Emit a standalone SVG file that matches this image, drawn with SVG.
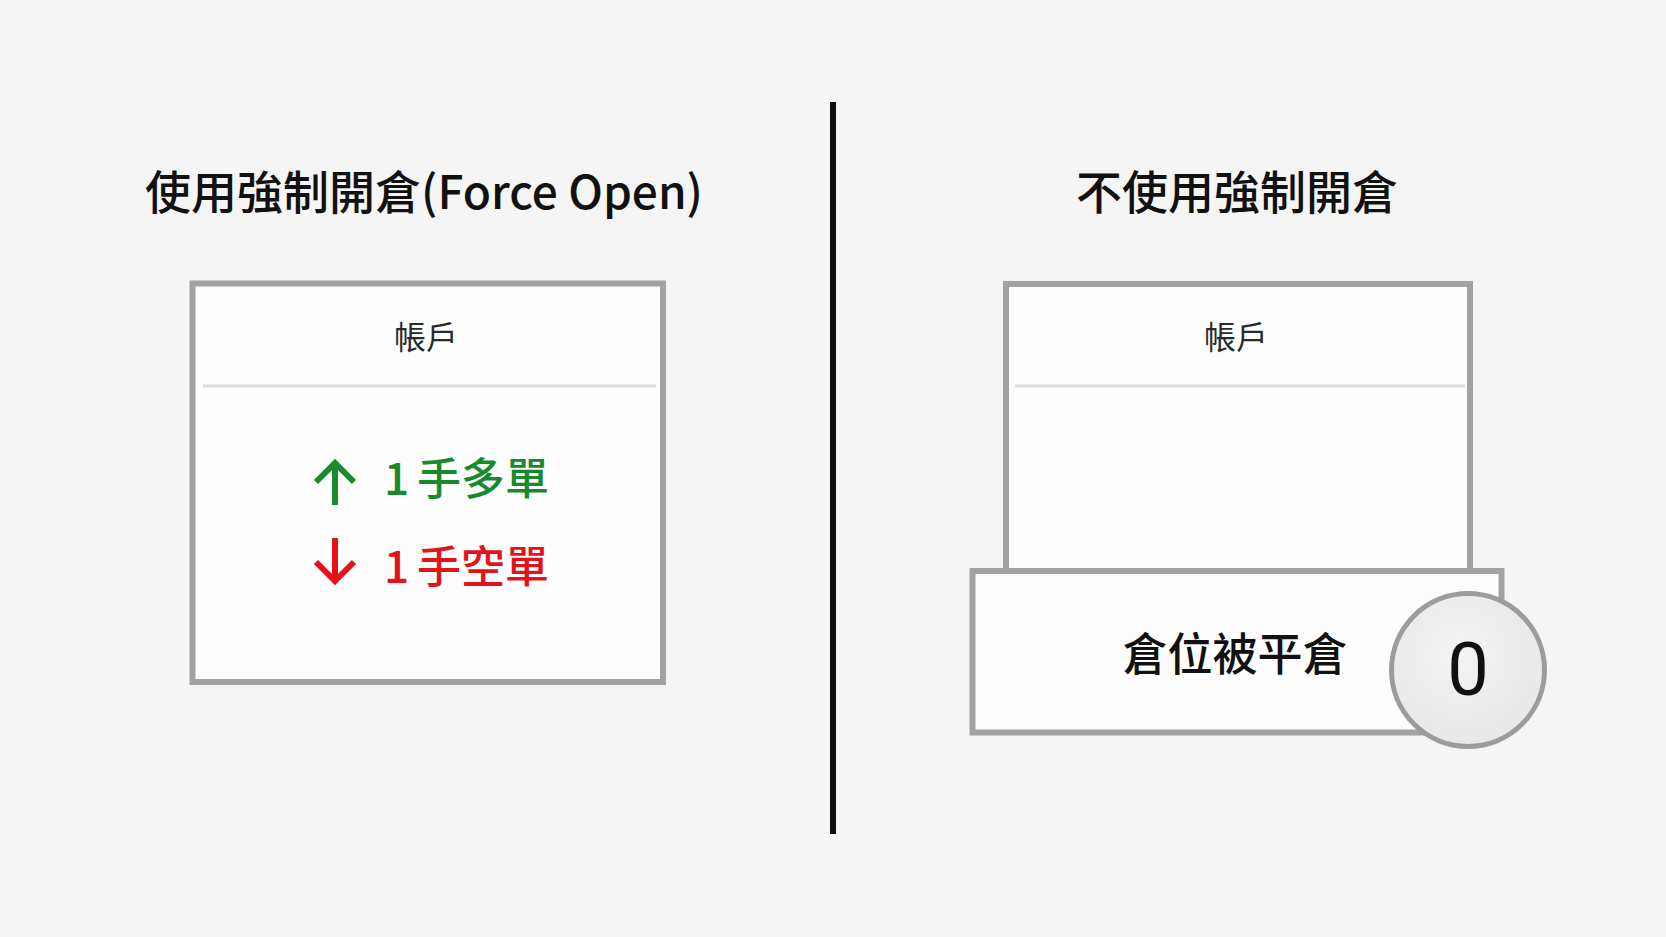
<svg xmlns="http://www.w3.org/2000/svg" width="1666" height="937" viewBox="0 0 1666 937">
<defs>
<style>
.t{font-family:"Noto Sans CJK TC","Noto Sans CJK SC","Noto Sans",sans-serif;}
.title{font-size:46px;font-weight:500;fill:#111;text-anchor:middle;}
.hdr{font-size:32px;font-weight:400;fill:#2a2a2a;text-anchor:middle;}
.box{fill:#fdfdfd;stroke:#a2a2a2;stroke-width:6;}
.sep{stroke:#dcdcdc;stroke-width:3;}
.arr{fill:none;stroke-width:6;stroke-linecap:butt;stroke-linejoin:miter;}
</style>
<radialGradient id="cg" cx="0.45" cy="0.4" r="0.7">
<stop offset="0" stop-color="#f3f3f3"/>
<stop offset="1" stop-color="#e6e6e6"/>
</radialGradient>
</defs>
<rect x="0" y="0" width="1666" height="937" fill="#f5f5f5"/>

<g id="divider">
<line x1="833" y1="102" x2="833" y2="834" stroke="#0d0d0d" stroke-width="6"/>
</g>

<g id="title-left">
<text class="t title" x="424" y="209">使用強制開倉(Force Open)</text>
</g>
<g id="title-right">
<text class="t title" x="1237" y="209" font-size="46.8">不使用強制開倉</text>
</g>

<g id="account-left">
<rect class="box" x="192.5" y="283.5" width="470.5" height="398.5"/>
<line class="sep" x1="203" y1="386" x2="656" y2="386"/>
<text class="t hdr" x="426" y="349">帳戶</text>
<g id="long">
<path class="arr" stroke="#1a8a2c" d="M335,505 L335,463 M316,482 L335,463 L354,482"/>
<text class="t" x="384" y="495" font-size="44" font-weight="500" fill="#178a2e">1<tspan dx="8">手多單</tspan></text>
</g>
<g id="short">
<path class="arr" stroke="#e3131b" d="M335,538 L335,581 M316,562 L335,581 L354,562"/>
<text class="t" x="384" y="583" font-size="44" font-weight="500" fill="#e3131b">1<tspan dx="8">手空單</tspan></text>
</g>
</g>

<g id="account-right">
<rect class="box" x="1006" y="284" width="464" height="300"/>
<line class="sep" x1="1015" y1="386" x2="1465" y2="386"/>
<text class="t hdr" x="1236" y="349">帳戶</text>
</g>

<g id="liquidated">
<rect class="box" x="972.5" y="571" width="529" height="161.5"/>
<text class="t" x="1235" y="671" font-size="45" font-weight="500" fill="#111" text-anchor="middle">倉位被平倉</text>
</g>

<g id="zero-badge">
<circle cx="1468" cy="670" r="76.5" fill="url(#cg)" stroke="#9c9c9c" stroke-width="5"/>
<text x="1468" y="695" font-family="Roboto,'Noto Sans',sans-serif" font-size="74" fill="#111" text-anchor="middle">0</text>
</g>
</svg>
